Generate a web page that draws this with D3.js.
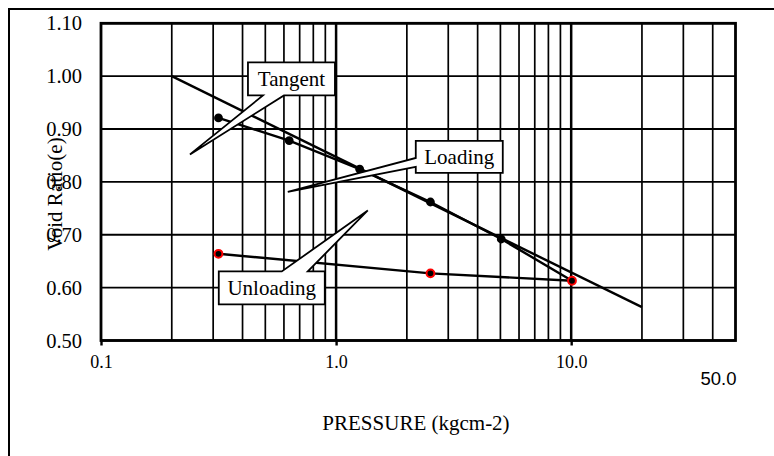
<!DOCTYPE html>
<html>
<head>
<meta charset="utf-8">
<script src="https://cdn.jsdelivr.net/npm/d3@7"></script>
<style>
    body { margin: 0; background: #ffffff; }
    svg { display: block; }
</style>
</head>
<body>
<div id="chart"></div>
<script>

// loading curve (pressure kg/cm2, void ratio)
var loadPressure = [0.316, 0.632, 1.26, 2.52, 5.04, 10.08];
var loadVoid = [0.921, 0.878, 0.824, 0.762, 0.692, 0.613];

// unloading curve
var unloadPressure = [10.08, 2.52, 0.316];
var unloadVoid = [0.613, 0.627, 0.664];

// straight tangent line through the virgin part
var tangentPressure = [0.2, 20];
var tangentVoid = [1.00, 0.563];

var xTicks = [0.1, 1, 10];
var xEndTick = 50;
var yTicks = [0.5, 0.6, 0.7, 0.8, 0.9, 1.0, 1.1];
var xGrid = [0.2, 0.3, 0.4, 0.5, 0.6, 0.7, 0.8, 0.9, 1, 2, 3, 4, 5, 6, 7, 8, 9, 10, 20, 30, 40];

// callout labels and the point (pressure, void ratio) each one points at
var calloutText = ["Tangent", "Loading", "Unloading"];
var calloutPressure = [0.239, 0.623, 1.364];
var calloutVoid = [0.852, 0.781, 0.746];

var width = 774, height = 456;
var serif = "'Liberation Serif', 'Times New Roman', serif";

var svg = d3.select("#chart").append("svg")
    .attr("width", width)
    .attr("height", height);

// outer chart border (runs off the picture on the right and bottom)
svg.append("rect")
    .attr("x", 9).attr("y", 9)
    .attr("width", 780).attr("height", 460)
    .attr("fill", "white")
    .attr("stroke", "black")
    .attr("stroke-width", 2);

var x = d3.scaleLog().domain([0.1, 50]).range([101, 735.5]);
var y = d3.scaleLinear().domain([0.5, 1.1]).range([340.5, 23.3]);

var plot = svg.append("g");

// grid lines
plot.selectAll("line.hgrid").data(yTicks).enter().append("line")
    .attr("class", "hgrid")
    .attr("x1", x(0.1)).attr("x2", x(50))
    .attr("y1", function(d){ return y(d); })
    .attr("y2", function(d){ return y(d); })
    .attr("stroke", "black")
    .attr("stroke-width", 1.9);

plot.selectAll("line.vgrid").data(xGrid).enter().append("line")
    .attr("class", "vgrid")
    .attr("x1", function(d){ return x(d); })
    .attr("x2", function(d){ return x(d); })
    .attr("y1", y(1.1)).attr("y2", y(0.5))
    .attr("stroke", "black")
    .attr("stroke-width", function(d){ return (d === 1 || d === 10) ? 2.5 : 1.7; });

// plot frame
plot.append("rect")
    .attr("x", x(0.1)).attr("y", y(1.1))
    .attr("width", x(50) - x(0.1))
    .attr("height", y(0.5) - y(1.1))
    .attr("fill", "none")
    .attr("stroke", "black")
    .attr("stroke-width", 2.8);

// x axis
var xAxis = d3.axisBottom(x).tickValues(xTicks)
    .tickFormat(d3.format(".1f"))
    .tickSizeInner(5).tickSizeOuter(0);
var xAxisGroup = svg.append("g")
    .attr("transform", "translate(0," + y(0.5) + ")")
    .call(xAxis);
xAxisGroup.select(".domain").remove();
xAxisGroup.selectAll(".tick line").attr("stroke", "black").attr("stroke-width", 2.4);
xAxisGroup.selectAll("text")
    .attr("y", 27.5).attr("dy", 0)
    .style("font-family", serif)
    .style("font-size", "18px")
    .style("fill", "black");

// the lone end label, drawn in a sans font
svg.append("text")
    .attr("x", x(xEndTick) + 1)
    .attr("y", 385)
    .attr("text-anchor", "end")
    .style("font-family", "'Liberation Sans', Arial, sans-serif")
    .style("font-size", "18.5px")
    .text(d3.format(".1f")(xEndTick));

// y axis title (drawn first so tick labels sit over it)
svg.append("text")
    .attr("transform", "translate(62,194) rotate(-90)")
    .attr("text-anchor", "middle")
    .style("font-family", serif)
    .style("font-size", "21px")
    .text("Void Ratio(e)");

// y axis
var yAxis = d3.axisLeft(y).tickValues(yTicks)
    .tickFormat(d3.format(".2f"))
    .tickSize(0).tickPadding(19);
var yAxisGroup = svg.append("g")
    .attr("transform", "translate(" + x(0.1) + ",0)")
    .call(yAxis);
yAxisGroup.select(".domain").remove();
yAxisGroup.selectAll("text")
    .style("font-family", serif)
    .style("font-size", "20.5px")
    .style("fill", "black");

// x axis title
svg.append("text")
    .attr("x", 416).attr("y", 430)
    .attr("text-anchor", "middle")
    .style("font-family", serif)
    .style("font-size", "21px")
    .text("PRESSURE (kgcm-2)");

// series lines
var line = d3.line()
    .x(function(d){ return x(d[0]); })
    .y(function(d){ return y(d[1]); });

var zip = function(a, b){
    return a.map(function(v, i){ return [v, b[i]]; });
};

var series = [zip(tangentPressure, tangentVoid), zip(loadPressure, loadVoid), zip(unloadPressure, unloadVoid)];
plot.selectAll("path.series").data(series).enter().append("path")
    .attr("class", "series")
    .attr("d", line)
    .attr("fill", "none")
    .attr("stroke", "black")
    .attr("stroke-width", 2.4);

// markers: loading points black, unloading points black with red ring
plot.selectAll("circle.load").data(zip(loadPressure, loadVoid).slice(0, -1)).enter().append("circle")
    .attr("class", "load")
    .attr("cx", function(d){ return x(d[0]); })
    .attr("cy", function(d){ return y(d[1]); })
    .attr("r", 4.4)
    .attr("fill", "black");

plot.selectAll("circle.unload").data(zip(unloadPressure, unloadVoid)).enter().append("circle")
    .attr("class", "unload")
    .attr("cx", function(d){ return x(d[0]); })
    .attr("cy", function(d){ return y(d[1]); })
    .attr("r", 3.9)
    .attr("fill", "black")
    .attr("stroke", "#ff0000")
    .attr("stroke-width", 2);

// callout boxes: offset from the tip, size, and where the wedge leaves the box
var calloutLayout = [
    {dx: 58, dy: -92, w: 87, h: 33, side: "bottom", a: 15, b: 36},
    {dx: 128, dy: -51, w: 87, h: 32, side: "left", a: 17, b: 26},
    {dx: -149, dy: 61, w: 106, h: 33, side: "top", a: 63, b: 89}
];

var calloutPath = function(tx, ty, c){
    var l = tx + c.dx, t = ty + c.dy, r = l + c.w, b = t + c.h;
    var p = d3.path();
    p.moveTo(l, t);
    if (c.side === "top") {
        p.lineTo(l + c.a, t); p.lineTo(tx, ty); p.lineTo(l + c.b, t);
    }
    p.lineTo(r, t);
    p.lineTo(r, b);
    if (c.side === "bottom") {
        p.lineTo(l + c.b, b); p.lineTo(tx, ty); p.lineTo(l + c.a, b);
    }
    p.lineTo(l, b);
    if (c.side === "left") {
        p.lineTo(l, t + c.b); p.lineTo(tx, ty); p.lineTo(l, t + c.a);
    }
    p.closePath();
    return p.toString();
};

calloutText.forEach(function(label, i){
    var tx = x(calloutPressure[i]), ty = y(calloutVoid[i]), c = calloutLayout[i];
    var g = svg.append("g");
    g.append("path")
        .attr("d", calloutPath(tx, ty, c))
        .attr("fill", "white")
        .attr("stroke", "black")
        .attr("stroke-width", 1.8)
        .attr("stroke-linejoin", "miter");
    g.append("text")
        .attr("x", tx + c.dx + c.w / 2)
        .attr("y", ty + c.dy + c.h / 2 + 7)
        .attr("text-anchor", "middle")
        .style("font-family", serif)
        .style("font-size", "21px")
        .text(label);
});

</script>
</body>
</html>
